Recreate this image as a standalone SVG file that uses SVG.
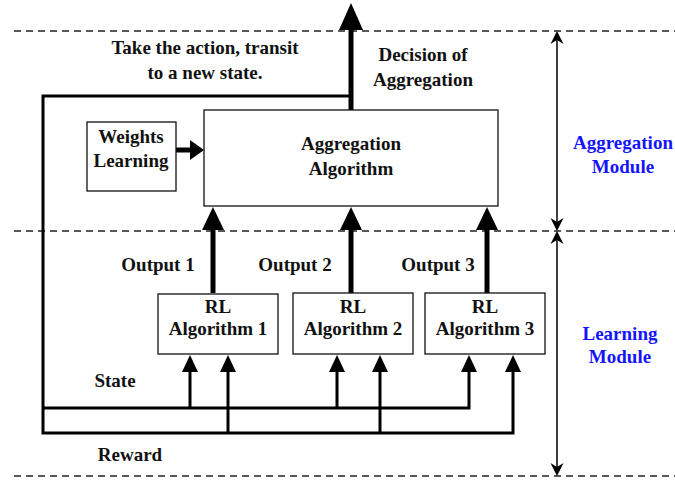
<svg xmlns="http://www.w3.org/2000/svg" width="675" height="481" viewBox="0 0 675 481">
  <style>
    .lbl { font-family: "Liberation Serif", "Times New Roman", serif; font-weight: bold; font-size: 19px; fill: #111; text-anchor: middle; }
    .mod { fill: #1515ff; }
    .box { fill: #fff; stroke: #111; stroke-width: 1.3; }
    .dash { stroke: #222; stroke-width: 1.3; stroke-dasharray: 7 5; fill: none; }
    .bus { stroke: #000; stroke-width: 3; fill: none; }
    .thick { stroke: #000; stroke-width: 5; fill: none; }
    .thin { stroke: #000; stroke-width: 1.5; fill: none; }
    .head { fill: #000; }
  </style>

  <!-- module separators -->
  <g id="separators">
    <line class="dash" x1="14" y1="31" x2="675" y2="31"/>
    <line class="dash" x1="14" y1="231" x2="675" y2="231"/>
    <line class="dash" x1="14" y1="476" x2="675" y2="476"/>
  </g>

  <!-- module extent arrows (concave filled heads) -->
  <g id="extents">
    <line class="thin" x1="557" y1="36" x2="557" y2="226"/>
    <path class="head" d="M557,31 L563.5,44 L557,40 L550.5,44 Z"/>
    <path class="head" d="M557,231 L563.5,218 L557,222 L550.5,218 Z"/>
    <line class="thin" x1="557" y1="236" x2="557" y2="471"/>
    <path class="head" d="M557,231 L563.5,244 L557,240 L550.5,244 Z"/>
    <path class="head" d="M557,476 L563.5,463 L557,467 L550.5,463 Z"/>
  </g>

  <g id="connectors">
    <!-- feedback loop: action back to state and reward buses -->
    <path class="bus" d="M351,96 H43 V433 H513 V372"/>
    <path class="bus" d="M43,408 H469 V372"/>
    <line class="bus" x1="190" y1="408" x2="190" y2="372"/>
    <line class="bus" x1="337" y1="408" x2="337" y2="372"/>
    <line class="bus" x1="228" y1="433" x2="228" y2="372"/>
    <line class="bus" x1="380" y1="433" x2="380" y2="372"/>
    <!-- input arrowheads -->
    <polygon class="head" points="182,372 198,372 190,355"/>
    <polygon class="head" points="220,372 236,372 228,355"/>
    <polygon class="head" points="329,372 345,372 337,355"/>
    <polygon class="head" points="372,372 388,372 380,355"/>
    <polygon class="head" points="461,372 477,372 469,355"/>
    <polygon class="head" points="505,372 521,372 513,355"/>

    <!-- outputs to aggregation -->
    <line class="thick" x1="213" y1="293" x2="213" y2="228"/>
    <line class="thick" x1="351" y1="293" x2="351" y2="228"/>
    <line class="thick" x1="487" y1="293" x2="487" y2="228"/>
    <polygon class="head" points="202,230 224,230 213,207"/>
    <polygon class="head" points="340,230 362,230 351,207"/>
    <polygon class="head" points="476,230 498,230 487,207"/>

    <!-- weights into aggregation -->
    <line class="thick" x1="176" y1="150" x2="192" y2="150"/>
    <polygon class="head" points="190,140 190,160 204,150"/>

    <!-- decision output -->
    <line class="thick" x1="351" y1="110" x2="351" y2="28"/>
    <polygon class="head" points="339,30 363,30 351,3"/>
  </g>

  <g id="aggregation">
    <rect class="box" x="204" y="110" width="294" height="96"/>
    <text class="lbl" x="351" y="150">Aggregation</text>
    <text class="lbl" x="351" y="175">Algorithm</text>
  </g>

  <g id="weights">
    <rect class="box" x="87" y="122" width="89" height="69"/>
    <text class="lbl" x="131" y="143">Weights</text>
    <text class="lbl" x="131" y="167">Learning</text>
  </g>

  <g id="rl1">
    <rect class="box" x="158" y="294" width="120" height="60"/>
    <text class="lbl" x="218" y="313">RL</text>
    <text class="lbl" x="218" y="335">Algorithm 1</text>
  </g>
  <g id="rl2">
    <rect class="box" x="293" y="293" width="120" height="61"/>
    <text class="lbl" x="353" y="313">RL</text>
    <text class="lbl" x="353" y="335">Algorithm 2</text>
  </g>
  <g id="rl3">
    <rect class="box" x="425" y="293" width="120" height="61"/>
    <text class="lbl" x="485" y="313">RL</text>
    <text class="lbl" x="485" y="335">Algorithm 3</text>
  </g>

  <g id="labels">
    <text class="lbl" x="205" y="54">Take the action, transit</text>
    <text class="lbl" x="205" y="79">to a new state.</text>
    <text class="lbl" x="423" y="61">Decision of</text>
    <text class="lbl" x="423" y="86">Aggregation</text>
    <text class="lbl" x="158" y="271">Output 1</text>
    <text class="lbl" x="295" y="271">Output 2</text>
    <text class="lbl" x="438" y="271">Output 3</text>
    <text class="lbl" x="115" y="387">State</text>
    <text class="lbl" x="130" y="461">Reward</text>
    <text class="lbl mod" x="623" y="149">Aggregation</text>
    <text class="lbl mod" x="623" y="173">Module</text>
    <text class="lbl mod" x="620" y="340">Learning</text>
    <text class="lbl mod" x="620" y="363">Module</text>
  </g>
</svg>
